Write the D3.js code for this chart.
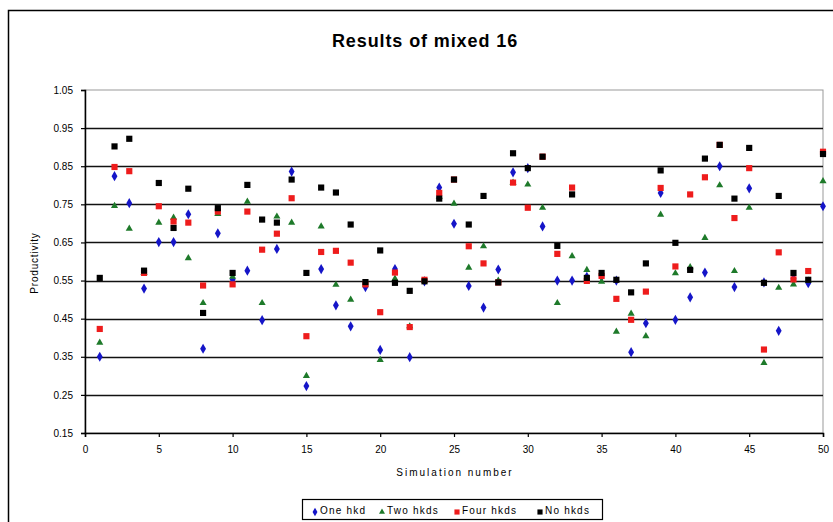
<!DOCTYPE html>
<html><head><meta charset="utf-8">
<script src="https://cdn.jsdelivr.net/npm/d3@7"></script>
<style>body{margin:0;background:#fff}svg{display:block}text{font-family:"Liberation Sans",Arial,sans-serif}</style>
</head><body>
<script>
const simNumbers = d3.range(1, 51);
const oneHkd = [0.350,0.824,0.753,0.529,0.651,0.651,0.724,0.371,0.674,0.553,0.576,0.446,0.633,0.836,0.273,0.580,0.485,0.430,0.533,0.368,0.580,0.349,0.548,0.794,0.699,0.536,0.479,0.579,0.834,0.845,0.692,0.550,0.550,0.560,0.560,0.550,0.362,0.438,0.780,0.447,0.506,0.571,0.850,0.533,0.792,0.545,0.418,0.555,0.543,0.745];
const twoHkds = [0.387,0.746,0.686,0.570,0.702,0.715,0.609,0.491,0.725,0.560,0.757,0.491,0.718,0.702,0.300,0.692,0.539,0.500,0.540,0.342,0.555,0.430,0.550,0.770,0.752,0.584,0.640,0.550,0.807,0.802,0.741,0.491,0.614,0.578,0.547,0.416,0.463,0.404,0.723,0.569,0.585,0.662,0.800,0.575,0.741,0.334,0.531,0.540,0.550,0.811];
const fourHkds = [0.423,0.848,0.837,0.570,0.745,0.705,0.702,0.537,0.731,0.540,0.731,0.631,0.673,0.766,0.404,0.625,0.628,0.597,0.540,0.467,0.571,0.428,0.552,0.780,0.815,0.640,0.595,0.545,0.807,0.741,0.875,0.620,0.794,0.549,0.562,0.502,0.447,0.521,0.793,0.587,0.776,0.821,0.906,0.714,0.845,0.369,0.624,0.553,0.575,0.888];
const noHkds = [0.557,0.902,0.922,0.576,0.806,0.688,0.791,0.465,0.740,0.570,0.801,0.710,0.702,0.815,0.570,0.794,0.781,0.697,0.546,0.629,0.544,0.523,0.548,0.765,0.815,0.697,0.772,0.545,0.884,0.845,0.875,0.641,0.776,0.557,0.570,0.552,0.519,0.595,0.839,0.649,0.578,0.870,0.906,0.765,0.898,0.544,0.772,0.570,0.552,0.882];
const seriesNames = ["One hkd","Two hkds","Four hkds","No hkds"];
const xTicks = [0,5,10,15,20,25,30,35,40,45,50];
const yTicks = [0.15,0.25,0.35,0.45,0.55,0.65,0.75,0.85,0.95,1.05];
const titleText = "Results of mixed 16";
const xLabel = "Simulation number";
const yLabel = "Productivity";

const W = 833, H = 522;
const L = 85, R = 823, T = 90, B = 433;
const svg = d3.select("body").append("svg").attr("width", W).attr("height", H);
svg.append("rect").attr("x", 8.5).attr("y", 10.5).attr("width", 840).attr("height", 540)
  .attr("fill", "#fff").attr("stroke", "#000").attr("stroke-width", 1.5);

const x = d3.scaleLinear().domain([0, 50]).range([L, R]);
const y = d3.scaleLinear().domain([0.15, 1.05]).range([B, T]);

// plot border
svg.append("rect").attr("x", L).attr("y", T).attr("width", R - L).attr("height", B - T)
  .attr("fill", "none").attr("stroke", "#999").attr("stroke-width", 1);

// gridlines
svg.append("g").selectAll("line").data(yTicks.filter(v => v > 0.2 && v < 1.0)).join("line")
  .attr("x1", L).attr("x2", R).attr("y1", d => Math.round(y(d)) + 0.5).attr("y2", d => Math.round(y(d)) + 0.5)
  .attr("stroke", "#111").attr("stroke-width", 1.3);

// axes
const yAxis = svg.append("g").attr("transform", `translate(${L},0)`)
  .call(d3.axisLeft(y).tickValues(yTicks).tickFormat(d3.format(".2f")).tickSize(4).tickPadding(8));
const xAxis = svg.append("g").attr("transform", `translate(0,${B})`)
  .call(d3.axisBottom(x).tickValues(xTicks).tickFormat(d3.format("d")).tickSize(4).tickPadding(9));
[yAxis, xAxis].forEach(g => {
  g.select(".domain").attr("stroke", "#000").attr("stroke-width", 1.5);
  g.selectAll(".tick line").attr("stroke", "#000").attr("stroke-width", 1.2);
  g.selectAll("text").attr("font-size", 10).attr("fill", "#000")
    .style("font-family", '"Liberation Sans",Arial,sans-serif');
});

// series
const series = [
  {name: seriesNames[0], values: oneHkd, color: "#1515c8", shape: d3.symbolDiamond, size: 30},
  {name: seriesNames[1], values: twoHkds, color: "#1e7a2a", shape: d3.symbolTriangle, size: 22},
  {name: seriesNames[2], values: fourHkds, color: "#ee1c1c", shape: d3.symbolSquare, size: 38},
  {name: seriesNames[3], values: noHkds, color: "#000000", shape: d3.symbolSquare, size: 38}
];
series.forEach(s => {
  svg.append("g").selectAll("path").data(simNumbers).join("path")
    .attr("d", d3.symbol().type(s.shape).size(s.size))
    .attr("transform", (d, i) => `translate(${x(d)},${y(s.values[i])})`)
    .attr("fill", s.color);
});

// title
svg.append("text").attr("x", 425).attr("y", 47).attr("text-anchor", "middle")
  .attr("font-size", 18).attr("font-weight", "bold").attr("letter-spacing", 0.9).text(titleText);
svg.append("text").attr("x", 455).attr("y", 476).attr("text-anchor", "middle")
  .attr("font-size", 10).attr("letter-spacing", 2).text(xLabel);
svg.append("text").attr("transform", `translate(38,263) rotate(-90)`).attr("text-anchor", "middle")
  .attr("font-size", 10).attr("letter-spacing", 0.8).text(yLabel);

// legend
const lg = svg.append("g");
lg.append("rect").attr("x", 302.5).attr("y", 499.5).attr("width", 300).attr("height", 20)
  .attr("fill", "#fff").attr("stroke", "#000").attr("stroke-width", 1.2);
const legX = [312, 379, 454, 537];
series.forEach((s, i) => {
  lg.append("path").attr("d", d3.symbol().type(s.shape).size(s.size * 0.7))
    .attr("transform", `translate(${legX[i] + 3},${512})`).attr("fill", s.color);
  lg.append("text").attr("x", legX[i] + 8).attr("y", 513.5).attr("font-size", 10)
    .attr("letter-spacing", 1.2).text(s.name);
});
</script>
</body></html>
